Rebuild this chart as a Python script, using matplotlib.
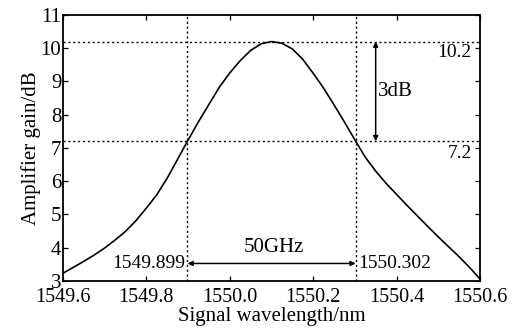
import matplotlib
matplotlib.use("Agg")
import matplotlib.pyplot as plt

plt.rcParams['font.family'] = ['Liberation Serif', 'DejaVu Serif']

wavelength = [1549.600, 1549.625, 1549.650, 1549.675, 1549.700, 1549.725, 1549.750,
              1549.775, 1549.800, 1549.825, 1549.850, 1549.875, 1549.899, 1549.925,
              1549.950, 1549.975, 1550.000, 1550.025, 1550.050, 1550.075, 1550.100,
              1550.125, 1550.150, 1550.175, 1550.200, 1550.225, 1550.250, 1550.275,
              1550.302, 1550.325, 1550.350, 1550.375, 1550.400, 1550.425, 1550.450,
              1550.475, 1550.500, 1550.525, 1550.550, 1550.575, 1550.600]
gain = [3.22, 3.40, 3.58, 3.77, 3.98, 4.22, 4.48,
        4.80, 5.18, 5.58, 6.08, 6.65, 7.20, 7.78,
        8.30, 8.82, 9.25, 9.62, 9.93, 10.13, 10.20,
        10.15, 9.98, 9.67, 9.25, 8.80, 8.30, 7.78,
        7.20, 6.72, 6.30, 5.93, 5.60, 5.27, 4.95,
        4.63, 4.32, 4.02, 3.72, 3.40, 3.05]

xticks = [1549.6, 1549.8, 1550.0, 1550.2, 1550.4, 1550.6]
xtick_labels = ['1549.6', '1549.8', '1550.0', '1550.2', '1550.4', '1550.6']
yticks = [3, 4, 5, 6, 7, 8, 9, 10, 11]
gain_peak = 10.2
gain_3db = 7.2
lambda_left = 1549.899
lambda_right = 1550.302

fig = plt.figure(figsize=(5.12, 3.33), dpi=100)
ax = fig.add_axes([0.1225, 0.157, 0.815, 0.798])

ax.plot(wavelength, gain, color='black', lw=1.2)

dot = dict(color='black', lw=1.0, linestyle=(0, (1.5, 2.0)))
ax.axhline(gain_peak, **dot)
ax.axhline(gain_3db, **dot)
ax.axvline(lambda_left, **dot)
ax.axvline(lambda_right, **dot)

ax.set_xlim(1549.6, 1550.6)
ax.set_ylim(3, 11)
ax.set_xticks(xticks)
ax.set_xticklabels(xtick_labels)
ax.set_yticks(yticks)
ax.tick_params(direction='in', top=True, right=True, length=3.5, width=0.9)
ax.tick_params(axis='x', labelsize=14.5, pad=5)
ax.tick_params(axis='y', labelsize=15, pad=1)
for s in ax.spines.values():
    s.set_linewidth(1.3)

ax.set_xlabel('Signal wavelength/nm', fontsize=15, labelpad=0)
ax.set_ylabel('Amplifier gain/dB', fontsize=15, labelpad=0)

# 3 dB double arrow
ax.annotate('', xy=(1550.35, gain_peak), xytext=(1550.35, gain_3db),
            arrowprops=dict(arrowstyle='<|-|>', color='black', lw=1.1,
                            mutation_scale=7, shrinkA=0, shrinkB=0))
ax.text(1550.355, 8.7, '3dB', fontsize=15, va='center', ha='left')
ax.text(1550.58, 9.86, '10.2', fontsize=14, va='center', ha='right')
ax.text(1550.58, 6.82, '7.2', fontsize=14, va='center', ha='right')

# 50 GHz double arrow
ax.annotate('', xy=(lambda_left, 3.52), xytext=(lambda_right, 3.52),
            arrowprops=dict(arrowstyle='<|-|>', color='black', lw=1.1,
                            mutation_scale=7, shrinkA=0, shrinkB=0))
ax.text(1550.105, 4.0, '50GHz', fontsize=15, va='center', ha='center')
ax.text(lambda_left - 0.006, 3.53, '1549.899', fontsize=14, va='center', ha='right')
ax.text(lambda_right + 0.006, 3.53, '1550.302', fontsize=14, va='center', ha='left')

fig.savefig('out.png', dpi=100)
